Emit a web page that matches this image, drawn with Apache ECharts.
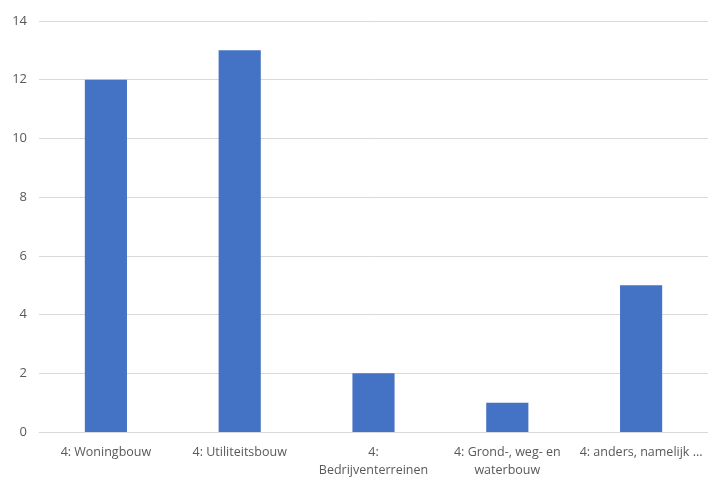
<!DOCTYPE html>
<html>
<head>
<meta charset="utf-8">
<script src="https://cdn.jsdelivr.net/npm/echarts@6/dist/echarts.min.js"></script>
<style>html,body{margin:0;padding:0;background:#fff}#c{width:708px;height:479px}</style>
</head>
<body>
<div id="c"></div>
<script>
const categories = ["4: Woningbouw", "4: Utiliteitsbouw", "4:\nBedrijventerreinen", "4: Grond-, weg- en\nwaterbouw", "4: anders, namelijk ..."];
const values = [12, 13, 2, 1, 5];
const yTicks = { min: 0, max: 14, interval: 2 };

const chart = echarts.init(document.getElementById('c'), null, { renderer: 'canvas' });
chart.setOption({
  animation: false,
  backgroundColor: '#ffffff',
  textStyle: { fontFamily: 'Open Sans' },
  grid: { left: 39, right: 0, top: 21, bottom: 44, containLabel: false },
  xAxis: {
    type: 'category',
    data: categories,
    axisLine: { show: true, lineStyle: { color: '#d9d9d9', width: 1 } },
    axisTick: { show: false },
    axisLabel: { color: '#595959', fontSize: 12.5, fontFamily: 'Open Sans', margin: 11, lineHeight: 18, interval: 0 }
  },
  yAxis: {
    type: 'value',
    min: yTicks.min, max: yTicks.max, interval: yTicks.interval,
    axisLine: { show: false },
    axisTick: { show: false },
    splitLine: { lineStyle: { color: '#d9d9d9', width: 1 } },
    axisLabel: { color: '#595959', fontSize: 13, fontFamily: 'Open Sans', margin: 12 }
  },
  series: [{
    type: 'bar',
    data: values,
    barWidth: '31.5%',
    itemStyle: { color: '#4472c4' }
  }]
});
</script>
</body>
</html>
